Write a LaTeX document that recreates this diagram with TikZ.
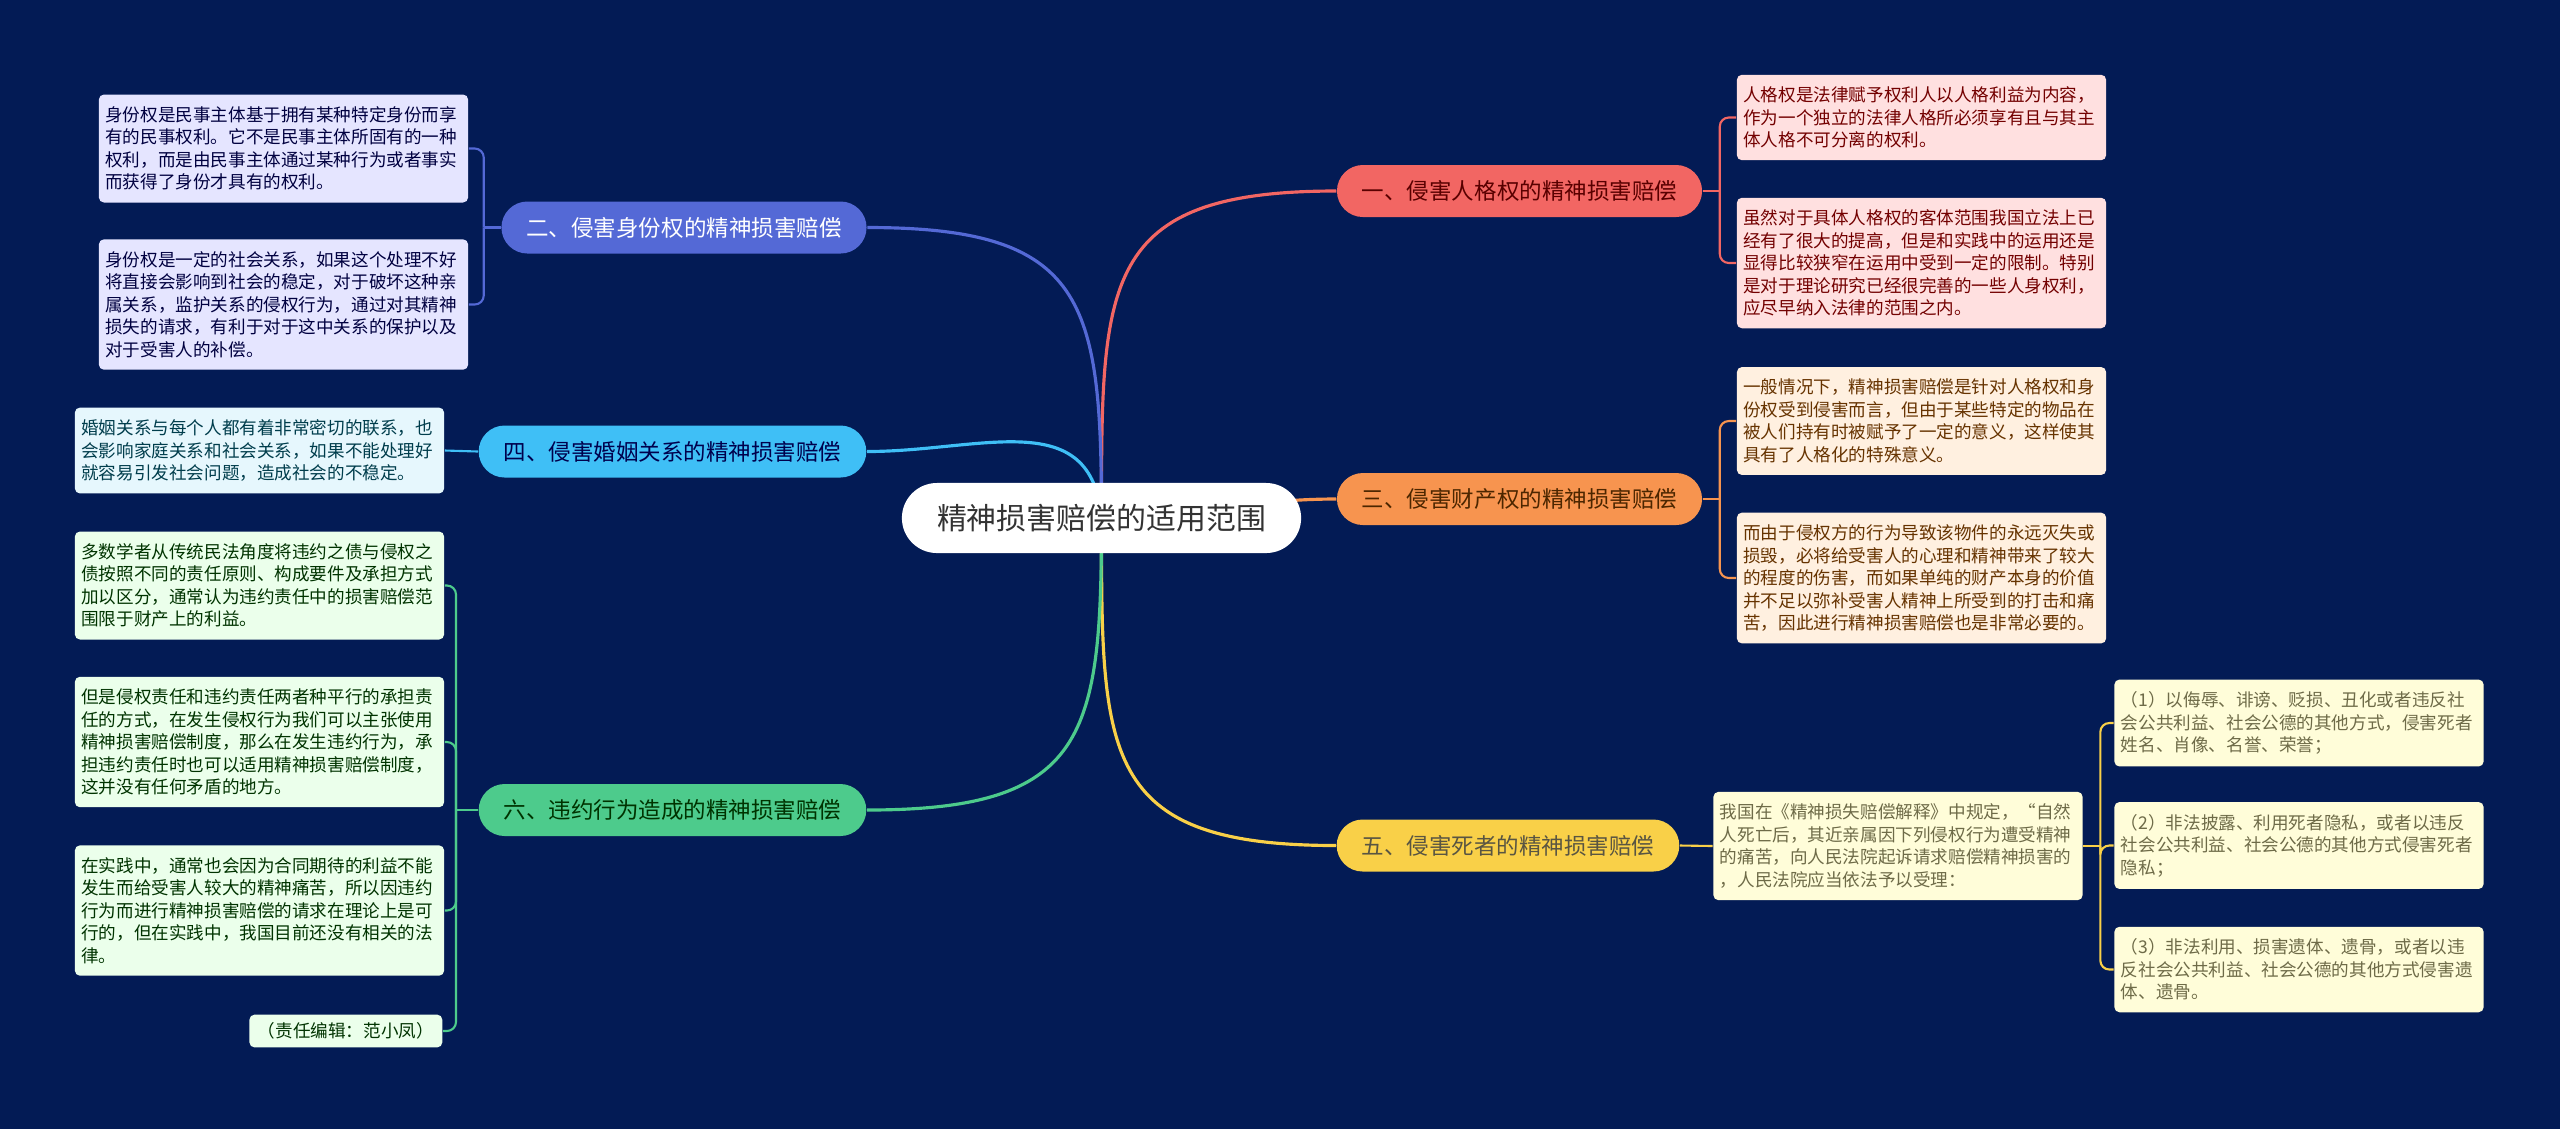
\documentclass[tikz,border=0pt]{standalone}
\usepackage{fontspec}
\setmainfont{Noto Sans CJK SC}
\usepackage{xcolor}
\usetikzlibrary{calc}

\definecolor{bgnavy}{HTML}{031B55}
\definecolor{cred}{HTML}{F26663}
\definecolor{corange}{HTML}{F7944F}
\definecolor{cyellow}{HTML}{F9D048}
\definecolor{cblue}{HTML}{5469D6}
\definecolor{csky}{HTML}{3FBFF6}
\definecolor{cgreen}{HTML}{4DCB8C}

\pgfdeclarelayer{bg}
\pgfdeclarelayer{lines}
\pgfsetlayers{bg,lines,main}

\begin{document}
\begin{tikzpicture}[x=0.01cm,y=-0.01cm]
% Boxes and lines of the map.
\tikzstyle{root}=[fill=white,rounded corners=0.35cm,minimum width=3.99cm,minimum height=0.7cm,font=\fontsize{8.5}{10}\selectfont,text=black!80]
\tikzstyle{branch}=[rounded corners=0.26cm,minimum height=0.52cm,inner xsep=0.25cm,font=\fontsize{6.4}{8}\selectfont]
\tikzstyle{leaf}=[rounded corners=0.05cm,text width=3.56cm,inner xsep=0.065cm,inner ysep=0.12cm,align=left,font=\fontsize{5}{6.4}\selectfont]
\tikzstyle{link}=[line width=0.9pt]
\tikzstyle{twig}=[line width=0.6pt,rounded corners=0.09cm]

\useasboundingbox (0,0) rectangle (2560,1129);
\begin{pgfonlayer}{bg}
\fill[bgnavy] (0,0) rectangle (2560,1129);
\end{pgfonlayer}

% The centre.
\node[root] (root) at (1101.5,518) {精神损害赔偿的适用范围};

% The six branches.
\node[branch,fill=cred,text=red!35!black] (b1) at (1519.5,191) {一、侵害人格权的精神损害赔偿};
\node[branch,fill=cblue,text=white] (b2) at (684,227.5) {二、侵害身份权的精神损害赔偿};
\node[branch,fill=corange,text=orange!30!black] (b3) at (1519.5,499) {三、侵害财产权的精神损害赔偿};
\node[branch,fill=csky,text=blue!30!black] (b4) at (672.5,451.5) {四、侵害婚姻关系的精神损害赔偿};
\node[branch,fill=cyellow,text=yellow!25!black] (b5) at (1508,845.5) {五、侵害死者的精神损害赔偿};
\node[branch,fill=cgreen,text=green!20!black] (b6) at (672.5,810) {六、违约行为造成的精神损害赔偿};

% Leaves of branch one.
\tikzstyle{pink}=[leaf,fill=red!12!white,text=red!45!black]
\node[pink] (l11) at (1921.5,117.5) {人格权是法律赋予权利人以人格利益为内容，\\作为一个独立的法律人格所必须享有且与其主\\体人格不可分离的权利。};
\node[pink] (l12) at (1921.5,263) {虽然对于具体人格权的客体范围我国立法上已\\经有了很大的提高，但是和实践中的运用还是\\显得比较狭窄在运用中受到一定的限制。特别\\是对于理论研究已经很完善的一些人身权利，\\应尽早纳入法律的范围之内。};

% Leaves of branch two.
\tikzstyle{lilac}=[leaf,fill=blue!10!white,text=blue!25!black]
\node[lilac] (l21) at (283.5,148.5) {身份权是民事主体基于拥有某种特定身份而享\\有的民事权利。它不是民事主体所固有的一种\\权利，而是由民事主体通过某种行为或者事实\\而获得了身份才具有的权利。};
\node[lilac] (l22) at (283.5,304.5) {身份权是一定的社会关系，如果这个处理不好\\将直接会影响到社会的稳定，对于破坏这种亲\\属关系，监护关系的侵权行为，通过对其精神\\损失的请求，有利于对于这中关系的保护以及\\对于受害人的补偿。};

% Leaves of branch three.
\tikzstyle{peach}=[leaf,fill=orange!12!white,text=orange!40!black]
\node[peach] (l31) at (1921.5,421) {一般情况下，精神损害赔偿是针对人格权和身\\份权受到侵害而言，但由于某些特定的物品在\\被人们持有时被赋予了一定的意义，这样使其\\具有了人格化的特殊意义。};
\node[peach] (l32) at (1921.5,578) {而由于侵权方的行为导致该物件的永远灭失或\\损毁，必将给受害人的心理和精神带来了较大\\的程度的伤害，而如果单纯的财产本身的价值\\并不足以弥补受害人精神上所受到的打击和痛\\苦，因此进行精神损害赔偿也是非常必要的。};

% Leaf of branch four.
\tikzstyle{ice}=[leaf,fill=cyan!10!white,text=blue!20!cyan!30!black]
\node[ice] (l41) at (259.5,450.5) {婚姻关系与每个人都有着非常密切的联系，也\\会影响家庭关系和社会关系，如果不能处理好\\就容易引发社会问题，造成社会的不稳定。};

% Leaves of branch five.
\tikzstyle{cream}=[leaf,fill=yellow!15!white,text=yellow!35!black]
\node[cream] (l51) at (1898,846) {我国在《精神损失赔偿解释》中规定，“自然\\人死亡后，其近亲属因下列侵权行为遭受精神\\的痛苦，向人民法院起诉请求赔偿精神损害的\\，人民法院应当依法予以受理：};
\node[cream] (l52) at (2299,723) {（1）以侮辱、诽谤、贬损、丑化或者违反社\\会公共利益、社会公德的其他方式，侵害死者\\姓名、肖像、名誉、荣誉；};
\node[cream] (l53) at (2299,845.5) {（2）非法披露、利用死者隐私，或者以违反\\社会公共利益、社会公德的其他方式侵害死者\\隐私；};
\node[cream] (l54) at (2299,969.5) {（3）非法利用、损害遗体、遗骨，或者以违\\反社会公共利益、社会公德的其他方式侵害遗\\体、遗骨。};

% Leaves of branch six.
\tikzstyle{mint}=[leaf,fill=green!8!white,text=green!20!black]
\node[mint] (l61) at (259.5,585.5) {多数学者从传统民法角度将违约之债与侵权之\\债按照不同的责任原则、构成要件及承担方式\\加以区分，通常认为违约责任中的损害赔偿范\\围限于财产上的利益。};
\node[mint] (l62) at (259.5,742) {但是侵权责任和违约责任两者种平行的承担责\\任的方式，在发生侵权行为我们可以主张使用\\精神损害赔偿制度，那么在发生违约行为，承\\担违约责任时也可以适用精神损害赔偿制度，\\这并没有任何矛盾的地方。};
\node[mint] (l63) at (259.5,910.5) {在实践中，通常也会因为合同期待的利益不能\\发生而给受害人较大的精神痛苦，所以因违约\\行为而进行精神损害赔偿的请求在理论上是可\\行的，但在实践中，我国目前还没有相关的法\\律。};
\node[mint,text width=,inner xsep=0.085cm,inner ysep=0.08cm,anchor=east] (l64) at (443,1031) {（责任编辑：范小凤）};

% Trunk points of the brackets.
\coordinate (t1) at ($(b1.east)+(17,0)$);
\coordinate (t2) at ($(b2.west)-(17,0)$);
\coordinate (t3) at ($(b3.east)+(17,0)$);
\coordinate (t5) at ($(l51.east)+(17,0)$);
\coordinate (t6) at ($(b6.west)-(22,0)$);

\begin{pgfonlayer}{lines}
% This draws the curves from the centre.
\draw[link,cred] (root.center) to[out=90,in=180,looseness=1.5] (b1.west);
\draw[link,cblue] (root.center) to[out=90,in=0,looseness=1.5] (b2.east);
\draw[link,corange] (root.center) to[out=0,in=180] (b3.west);
\draw[link,csky] (root.center) to[out=95,in=0,looseness=1.2] (b4.east);
\draw[link,cyellow] (root.center) to[out=-90,in=180,looseness=1.5] (b5.west);
\draw[link,cgreen] (root.center) to[out=-90,in=0,looseness=1.5] (b6.east);

% This draws the brackets to the leaves.
\draw[twig,cred] (b1.east) -- (t1);
\draw[twig,cred] (t1) |- (l11.west);
\draw[twig,cred] (t1) |- (l12.west);
\draw[twig,cblue] (b2.west) -- (t2);
\draw[twig,cblue] (t2) |- (l21.east);
\draw[twig,cblue] (t2) |- (l22.east);
\draw[twig,corange] (b3.east) -- (t3);
\draw[twig,corange] (t3) |- (l31.west);
\draw[twig,corange] (t3) |- (l32.west);
\draw[twig,csky] (b4.west) -- (l41.east);
\draw[twig,cyellow] (b5.east) -- (l51.west);
\draw[twig,cyellow] (l51.east) -- (t5);
\draw[twig,cyellow] (t5) |- (l52.west);
\draw[twig,cyellow] (t5) |- (l53.west);
\draw[twig,cyellow] (t5) |- (l54.west);
\draw[twig,cgreen] (b6.west) -- (t6);
\draw[twig,cgreen] (t6) |- (l61.east);
\draw[twig,cgreen] (t6) |- (l62.east);
\draw[twig,cgreen] (t6) |- (l63.east);
\draw[twig,cgreen] (t6) |- (l64.east);
\end{pgfonlayer}
\end{tikzpicture}
\end{document}
